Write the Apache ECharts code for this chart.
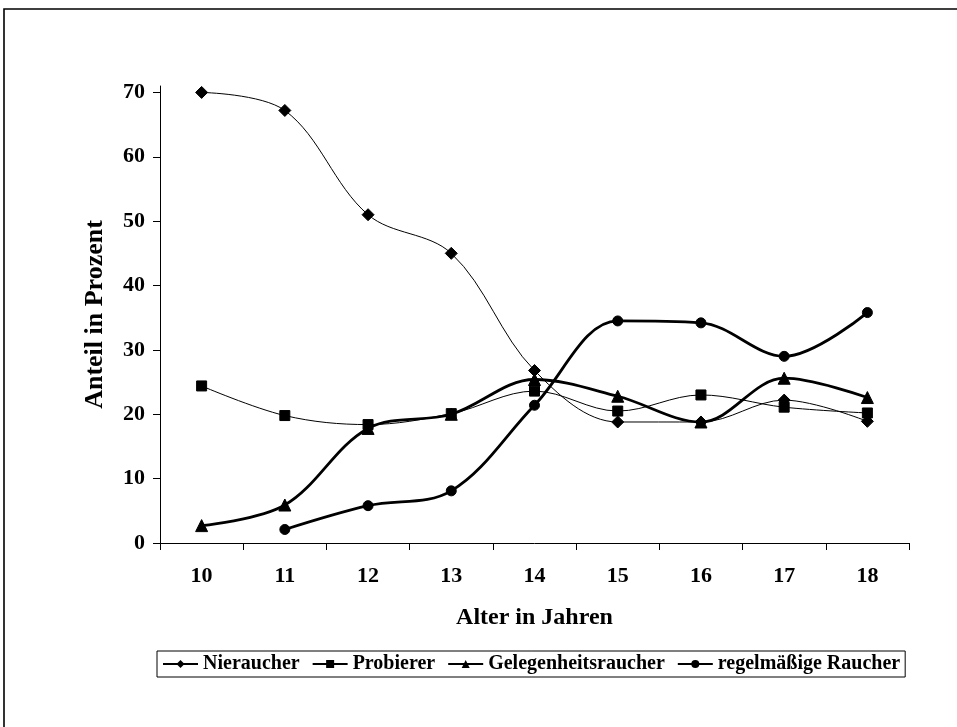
<!DOCTYPE html>
<html>
<head>
<meta charset="utf-8">
<script src="https://cdn.jsdelivr.net/npm/echarts@6/dist/echarts.min.js"></script>
<style>
html,body{margin:0;padding:0;background:#fff;}
#chart{width:957px;height:727px;}
</style>
</head>
<body>
<div id="chart"></div>
<script>
var categories = ['10','11','12','13','14','15','16','17','18'];
var nieraucher = [70, 67.2, 51, 45, 26.8, 18.8, 18.8, 22.2, 18.9];
var probierer = [24.4, 19.8, 18.4, 20.1, 23.6, 20.5, 23, 21.1, 20.2];
var gelegenheitsraucher = [2.7, 5.9, 17.8, 20, 25.4, 22.8, 18.8, 25.6, 22.6];
var regelmaessig = [null, 2.1, 5.8, 8.1, 21.4, 34.5, 34.2, 29, 35.8];
var seriesNames = ['Nieraucher', 'Probierer', 'Gelegenheitsraucher', 'regelmäßige Raucher'];
var yTicks = [0, 10, 20, 30, 40, 50, 60, 70];

var font = 'Liberation Serif';
var chart = echarts.init(document.getElementById('chart'), null, {renderer: 'canvas'});

function mk(name, data, symbol, size, width) {
  return {
    name: name, type: 'line', data: data, smooth: 0.35,
    symbol: symbol, symbolSize: size,
    lineStyle: {color: '#000', width: width},
    itemStyle: {color: '#000', borderColor: '#000'},
    connectNulls: false, animation: false
  };
}

chart.setOption({
  animation: false,
  backgroundColor: '#fff',
  graphic: [{
    type: 'rect', shape: {x: 4, y: 9, width: 1100, height: 1100},
    style: {fill: 'none', stroke: '#000', lineWidth: 1.6}, silent: true
  }],
  grid: {left: 160, right: 48, top: 86, bottom: 184, containLabel: false},
  legend: {
    data: seriesNames,
    left: 157, top: 651,
    padding: [3, 5, 3, 5],
    borderColor: '#000', borderWidth: 1,
    itemGap: 12, itemWidth: 35, itemHeight: 10,
    textStyle: {fontFamily: font, fontWeight: 'bold', fontSize: 20, color: '#000'}
  },
  xAxis: {
    type: 'category', data: categories, boundaryGap: true,
    name: 'Alter in Jahren', nameLocation: 'middle', nameGap: 63,
    nameTextStyle: {fontFamily: font, fontWeight: 'bold', fontSize: 24, color: '#000'},
    axisLine: {lineStyle: {color: '#000', width: 1}},
    axisTick: {show: true, inside: false, length: 7, lineStyle: {color: '#000'}, alignWithLabel: false},
    axisLabel: {fontFamily: font, fontWeight: 'bold', fontSize: 22, color: '#000', margin: 22},
    splitLine: {show: false}
  },
  yAxis: {
    type: 'value', min: 0, max: 71,
    name: 'Anteil in Prozent', nameLocation: 'middle', nameGap: 52, nameRotate: 90,
    nameTextStyle: {fontFamily: font, fontWeight: 'bold', fontSize: 26, color: '#000'},
    axisLine: {show: true, lineStyle: {color: '#000', width: 1}},
    axisTick: {show: true, length: 7, lineStyle: {color: '#000'}, customValues: yTicks},
    axisLabel: {fontFamily: font, fontWeight: 'bold', fontSize: 22, color: '#000', margin: 15, customValues: yTicks},
    splitLine: {show: false}
  },
  series: [
    mk(seriesNames[0], nieraucher, 'diamond', 12, 1),
    mk(seriesNames[1], probierer, 'rect', 10, 1),
    mk(seriesNames[2], gelegenheitsraucher, 'triangle', 12, 2.8),
    mk(seriesNames[3], regelmaessig, 'circle', 10, 2.8)
  ]
});
</script>
</body>
</html>
